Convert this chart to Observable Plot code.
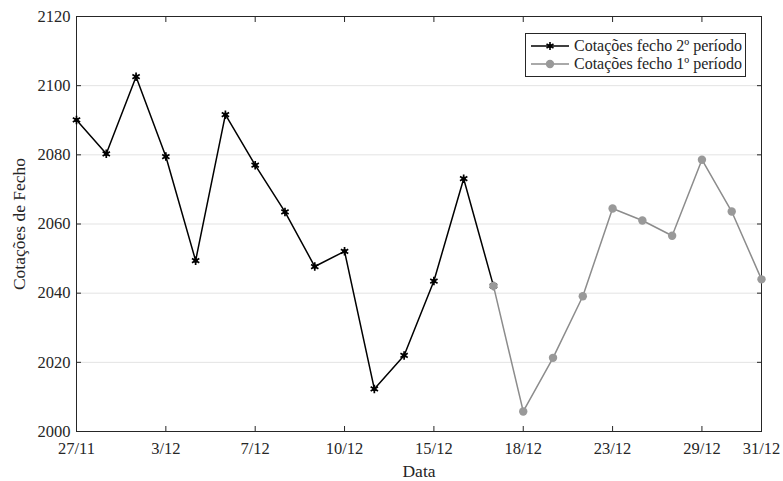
<!DOCTYPE html>
<html>
<head>
<meta charset="utf-8">
<script src="https://cdn.jsdelivr.net/npm/d3@7"></script>
<script src="https://cdn.jsdelivr.net/npm/@observablehq/plot@0.6"></script>
<style>
  html, body { margin: 0; padding: 0; background: #fff; }
  #wrap { position: relative; width: 783px; height: 481px; }
  #legend { position: absolute; left: 525px; top: 33px; width: 219px; height: 42px;
    border: 1px solid #262626; background: #fff; font-family: "Liberation Serif", serif;
    font-size: 16px; color: #262626; box-sizing: content-box; }
  #legend .row { position: absolute; left: 0; height: 18px; display: flex; align-items: center; }
  #legend svg { display: block; }
</style>
</head>
<body>
<div id="wrap"></div>
<script>
// Data
const series2Label = "Cotações fecho 2º período";
const series1Label = "Cotações fecho 1º período";
const series2Index = [0,1,2,3,4,5,6,7,8,9,10,11,12,13,14];
const series2Values = [2090.1, 2080.3, 2102.6, 2079.5, 2049.4, 2091.6, 2077.0, 2063.5, 2047.7, 2052.1, 2012.3, 2022.0, 2043.5, 2073.1, 2042.1];
const series1Index = [14,15,16,17,18,19,20,21,22,23];
const series1Values = [2042.1, 2005.8, 2021.3, 2039.1, 2064.5, 2061.0, 2056.6, 2078.6, 2063.6, 2044.0];
const xTickIndex = [0, 3, 6, 9, 12, 15, 18, 21, 23];
const xTickLabels = ["27/11", "3/12", "7/12", "10/12", "15/12", "18/12", "23/12", "29/12", "31/12"];
const yTicks = [2000, 2020, 2040, 2060, 2080, 2100, 2120];

const s2 = series2Index.map((x, i) => ({x, y: series2Values[i]}));
const s1 = series1Index.map((x, i) => ({x, y: series1Values[i]}));
const labelOf = new Map(xTickIndex.map((x, i) => [x, xTickLabels[i]]));

const axisColor = "#262626";
const grayColor = "#8c8c8c";
const tickFont = 16.5;
const labelFont = 17.5;

const chart = Plot.plot({
  width: 783,
  height: 481,
  marginLeft: 76,
  marginRight: 22,
  marginTop: 16,
  marginBottom: 50,
  style: { fontFamily: "Liberation Serif", fontSize: tickFont + "px", color: axisColor, background: "#fff" },
  x: { domain: [0, 23] },
  y: { domain: [2000, 2120] },
  marks: [
    Plot.gridY(yTicks.slice(1, -1), { stroke: "#e3e3e3", strokeOpacity: 1, strokeWidth: 1 }),
    Plot.axisX(xTickIndex, { anchor: "bottom", tickSize: -5, tickPadding: 16, tickFormat: d => labelOf.get(d),
      fontSize: tickFont, label: null, stroke: axisColor, fill: axisColor }),
    Plot.axisX({ anchor: "bottom", ticks: [], label: "Data", labelAnchor: "center", labelArrow: "none",
      labelOffset: 45, fontSize: labelFont, fill: axisColor }),
    Plot.axisX(xTickIndex, { anchor: "top", tickSize: -5, tickFormat: () => "", label: null, stroke: axisColor }),
    Plot.axisY(yTicks, { anchor: "left", tickSize: -5, tickPadding: 11, tickFormat: d => String(d),
      fontSize: tickFont, label: null, stroke: axisColor, fill: axisColor }),
    Plot.axisY({ anchor: "left", ticks: [], label: "Cotações de Fecho", labelAnchor: "center", labelArrow: "none",
      labelOffset: 64, fontSize: labelFont, fill: axisColor }),
    Plot.axisY(yTicks, { anchor: "right", tickSize: -5, tickFormat: () => "", label: null, stroke: axisColor }),
    Plot.frame({ stroke: axisColor, strokeWidth: 1 }),
    Plot.line(s2, { x: "x", y: "y", stroke: "#000", strokeWidth: 1.5 }),
    Plot.dot(s2, { x: "x", y: "y", r: 2.2, fill: "#000", stroke: "none" }),
    Plot.dot(s2, { x: "x", y: "y", r: 4, symbol: "asterisk", stroke: "#000", strokeWidth: 1.7 }),
    Plot.line(s1, { x: "x", y: "y", stroke: grayColor, strokeWidth: 1.5 }),
    Plot.dot(s1, { x: "x", y: "y", r: 4.2, fill: "#999", stroke: "none" })
  ]
});

const wrap = document.getElementById("wrap");
wrap.appendChild(chart);

// Legend (overlay inside the axes box)
const legend = document.createElement("div");
legend.id = "legend";
function row(top, color, marker, text) {
  const r = document.createElement("div");
  r.className = "row";
  r.style.top = top + "px";
  const sw = marker === "star"
    ? `<svg width="48" height="18"><line x1="5" y1="9" x2="43" y2="9" stroke="${color}" stroke-width="1.5"/><circle cx="24" cy="9" r="2" fill="${color}"/><path d="M24,5v8M20.5,7l7,4M20.5,11l7,-4" stroke="${color}" stroke-width="1.6"/></svg>`
    : `<svg width="48" height="18"><line x1="5" y1="9" x2="43" y2="9" stroke="${color}" stroke-width="1.5"/><circle cx="24" cy="9" r="4.2" fill="#999"/></svg>`;
  r.innerHTML = sw + `<span style="white-space:nowrap">${text}</span>`;
  legend.appendChild(r);
}
row(3, "#000", "star", series2Label);
row(21, grayColor, "dot", series1Label);
wrap.appendChild(legend);
</script>
</body>
</html>
